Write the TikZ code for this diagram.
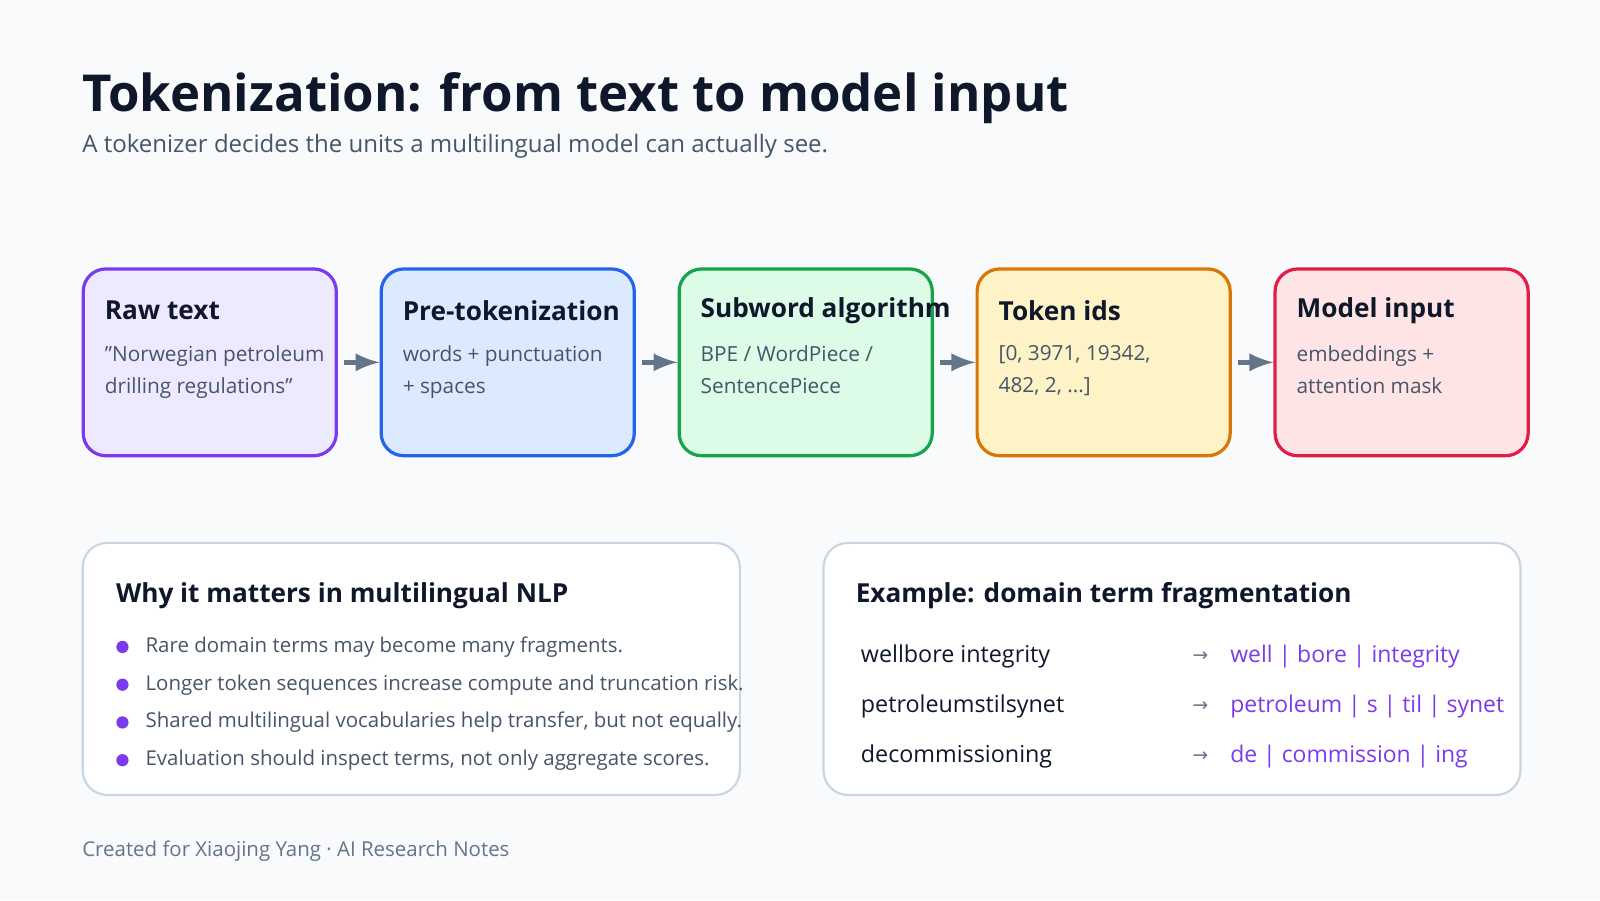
\documentclass[tikz,border=0pt]{standalone}
\usepackage{fontspec}
\setmainfont{Open Sans}
\newfontfamily\symfont{DejaVu Sans}
\usetikzlibrary{positioning}
\definecolor{bg}{HTML}{F8FAFC}
\definecolor{ink}{HTML}{0F172A}
\definecolor{muted}{HTML}{475569}
\definecolor{foot}{HTML}{64748B}
\definecolor{edge}{HTML}{CBD5E1}
\definecolor{arr}{HTML}{64748B}
\definecolor{vio}{HTML}{7C3AED}
\definecolor{cA}{HTML}{7C3AED}\definecolor{fA}{HTML}{EDE9FE}
\definecolor{cB}{HTML}{2563EB}\definecolor{fB}{HTML}{DBEAFE}
\definecolor{cC}{HTML}{16A34A}\definecolor{fC}{HTML}{DCFCE7}
\definecolor{cD}{HTML}{D97706}\definecolor{fD}{HTML}{FEF3C7}
\definecolor{cE}{HTML}{E11D48}\definecolor{fE}{HTML}{FFE4E6}
\begin{document}
\begin{tikzpicture}[x=0.1mm,y=-0.1mm,
    stage/.style={draw=#1, line width=0.9pt, rounded corners=2.2mm, minimum width=24.8mm, minimum height=18.3mm, anchor=north west},
    head/.style={anchor=west, font=\bfseries\fontsize{7.3}{9}\selectfont, text=ink, inner sep=0pt},
    body/.style={anchor=north west, align=left, font=\fontsize{5.8}{9}\selectfont, text=muted, inner sep=0pt},
    flow/.style={-latex, line width=1.3pt, draw=arr},
    panel/.style={draw=edge, fill=white, line width=0.6pt, rounded corners=2.4mm, anchor=north west, minimum height=24.7mm},
    item/.style={anchor=west, font=\fontsize{5.7}{7}\selectfont, text=muted, inner sep=0pt},
    term/.style={anchor=west, font=\fontsize{6.5}{8}\selectfont, text=ink, inner sep=0pt},
    piece/.style={anchor=west, font=\fontsize{6.4}{8}\selectfont, text=vio, inner sep=0pt}
]
  \fill[bg] (0,0) rectangle (1568,882);

  % title
  \node[anchor=west, inner sep=0pt, font=\bfseries\fontsize{14.2}{17}\selectfont, text=ink] (title) at (80,96) {Tokenization: from text to model input};
  \node[anchor=west, inner sep=0pt, font=\fontsize{6.7}{8}\selectfont, text=muted] (sub) at (80,143) {A tokenizer decides the units a multilingual model can actually see.};

  % pipeline stages
  \node[stage=cA, fill=fA] (s1) at (80,262) {};
  \node[stage=cB, fill=fB] (s2) at (372,262) {};
  \node[stage=cC, fill=fC] (s3) at (664,262) {};
  \node[stage=cD, fill=fD] (s4) at (956,262) {};
  \node[stage=cE, fill=fE] (s5) at (1248,262) {};

  \node[head] (h1) at (102,304) {Raw text};
  \node[body] (b1) at (102,338) {\char34 Norwegian petroleum\\drilling regulations\char34};
  \node[head] (h2) at (394,304) {Pre-tokenization};
  \node[body] (b2) at (394,338) {words + punctuation\\+ spaces};
  \node[head] (h3) at (686,304) {Subword algorithm};
  \node[body] (b3) at (686,338) {BPE / WordPiece /\\SentencePiece};
  \node[head] (h4) at (978,304) {Token ids};
  \node[body] (b4) at (978,338) {[0, 3971, 19342,\\482, 2, ...]};
  \node[head] (h5) at (1270,304) {Model input};
  \node[body] (b5) at (1270,338) {embeddings +\\attention mask};

  \foreach \a/\b in {s1/s2,s2/s3,s3/s4,s4/s5}
    \draw[flow] ([xshift=0.6mm]\a.east) -- (\b.west);

  % bottom panels
  \node[panel, minimum width=64.4mm] (why) at (80,531) {};
  \node[panel, minimum width=68.3mm] (ex) at (806,531) {};

  \node[head] (wh) at (113,584) {Why it matters in multilingual NLP};
  \foreach \y/\t in {634/Rare domain terms may become many fragments.,
                     671/Longer token sequences increase compute and truncation risk.,
                     708/{Shared multilingual vocabularies help transfer, but not equally.},
                     745/{Evaluation should inspect terms, not only aggregate scores.}}{
    \fill[vio] (120,\y) circle (6);
    \node[item] at (142,\y) {\t};
  }

  \node[head] (eh) at (838,584) {Example: domain term fragmentation};
  \foreach \y/\w/\p in {643/wellbore integrity/well | bore | integrity,
                        692/petroleumstilsynet/petroleum | s | til | synet,
                        741/decommissioning/de | commission | ing}{
    \node[term] at (843,\y) {\w};
    \node[term, text=foot, font=\symfont\fontsize{5.2}{7}\selectfont] at (1168,\y) {→};
    \node[piece] at (1205,\y) {\p};
  }

  % footer
  \node[anchor=west, inner sep=0pt, font=\fontsize{5.7}{7}\selectfont, text=foot] (ft) at (80,834) {Created for Xiaojing Yang · AI Research Notes};
\end{tikzpicture}
\end{document}
